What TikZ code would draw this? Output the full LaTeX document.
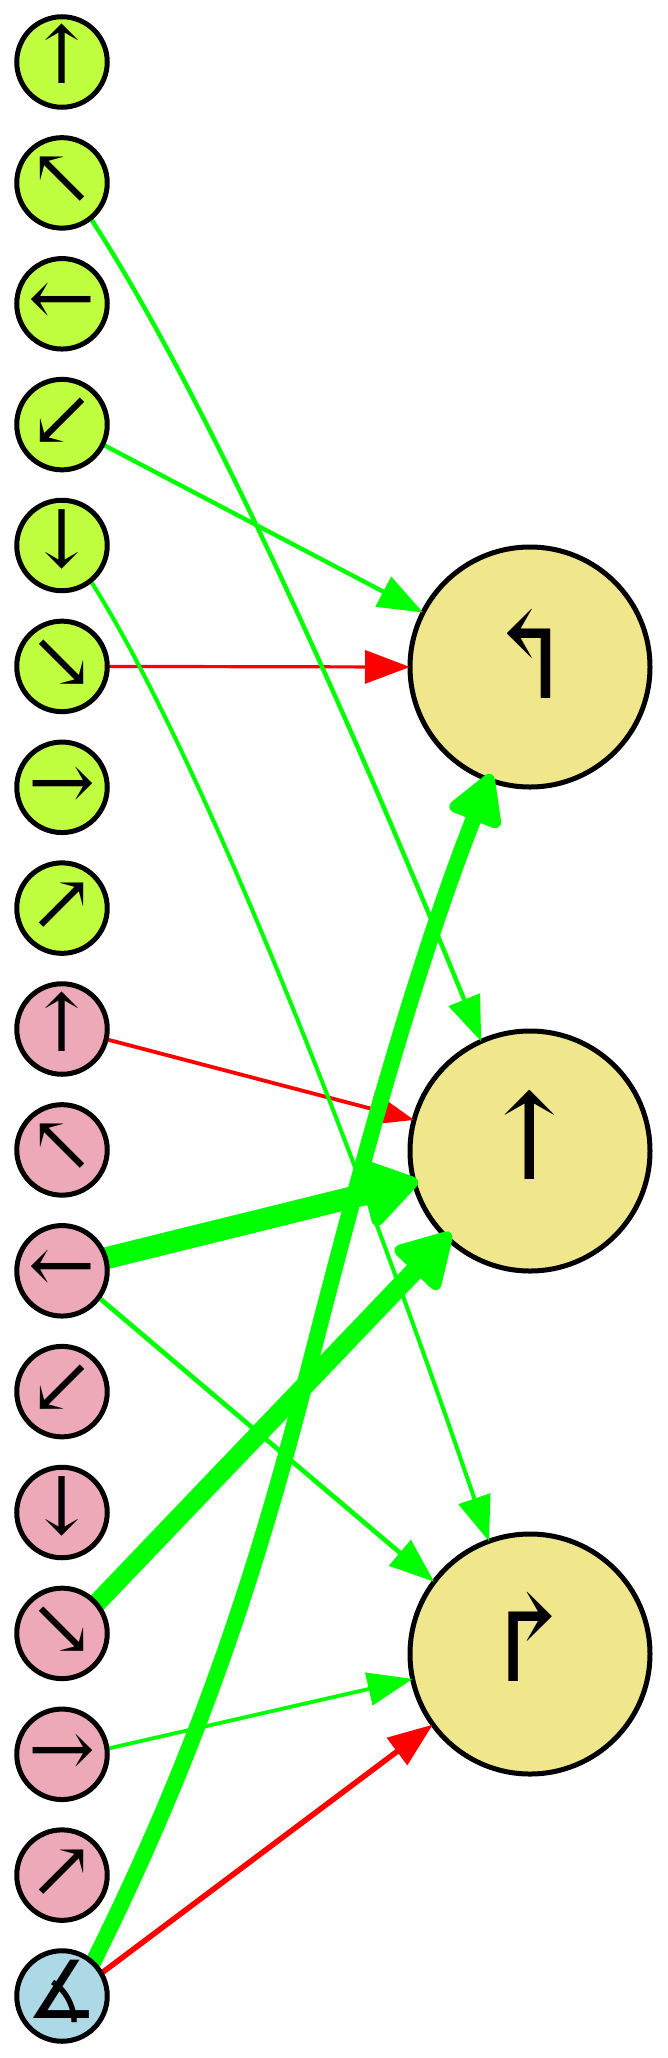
\documentclass[tikz,border=0pt]{standalone}
\usepackage{fontspec}
\setmainfont{DejaVu Serif}
\newfontfamily\anglefont{DejaVu Sans}
\usetikzlibrary{arrows.meta}
\definecolor{limefill}{HTML}{BFFF3F}
\definecolor{pinkfill}{HTML}{EEA9B8}
\definecolor{bluefill}{HTML}{ADD8E6}
\definecolor{khakifill}{HTML}{F0E68C}
\definecolor{edgegreen}{HTML}{00FF00}
\definecolor{edgered}{HTML}{FF0000}
\pgfdeclarelayer{bigl}
\pgfdeclarelayer{edgel}
\pgfsetlayers{bigl,edgel,main}
\tikzset{
  x=1pt,y=-1pt,
  smallnode/.style={circle,draw=black,line width=5pt,inner sep=0pt,outer sep=0pt,minimum size=90.5pt},
  limenode/.style={smallnode,fill=limefill},
  pinknode/.style={smallnode,fill=pinkfill},
  bluenode/.style={smallnode,fill=bluefill},
  bignode/.style={circle,draw=black,fill=khakifill,line width=5pt,inner sep=0pt,outer sep=0pt,minimum size=240pt},
  glyphsmall/.style={anchor=base,inner sep=0pt,outer sep=0pt,font=\fontsize{80}{96}\selectfont},
  glyphbig/.style={anchor=base,inner sep=0pt,outer sep=0pt,font=\fontsize{120}{144}\selectfont},
  thinhead/.tip={Triangle[length=45pt,width=33pt]},
  greenthin/.style={draw=edgegreen,line width=#1,-{thinhead[edgegreen]}},
  redthin/.style={draw=edgered,line width=#1,-{thinhead[edgered]}},
  greenthick/.style={draw=edgegreen,line width=22pt,shorten >=-4pt,-{Triangle[length=60pt,width=75pt,round,line width=12pt,edgegreen]}},
  greenmeda/.style={draw=edgegreen,line width=19pt,shorten >=-6pt,-{Triangle[length=60pt,width=66pt,round,line width=12pt,edgegreen]}},
  greenmedb/.style={draw=edgegreen,line width=16pt,shorten >=-6pt,-{Triangle[length=56pt,width=60pt,round,line width=12pt,edgegreen]}},
}
\begin{document}
\begin{tikzpicture}
\useasboundingbox (0,0) rectangle (667,2058);
\begin{pgfonlayer}{bigl}
\node[bignode] (L1) at (530,667) {};
\node[bignode] (L2) at (530,1151) {};
\node[bignode] (L3) at (530,1654) {};
\node[glyphbig] (GL1) at ([yshift=-31pt]L1.center) {↰};
\node[glyphbig] (GL2) at ([yshift=-28pt]L2.center) {↑};
\node[glyphbig] (GL3) at ([yshift=-27pt]L3.center) {↱};
\end{pgfonlayer}
\node[limenode] (S0) at (62,62) {};
\node[limenode] (S1) at (62,182.9) {};
\node[limenode] (S2) at (62,303.8) {};
\node[limenode] (S3) at (62,424.6) {};
\node[limenode] (S4) at (62,545.5) {};
\node[limenode] (S5) at (62,666.4) {};
\node[limenode] (S6) at (62,787.3) {};
\node[limenode] (S7) at (62,908.1) {};
\node[pinknode] (S8) at (62,1029) {};
\node[pinknode] (S9) at (62,1149.9) {};
\node[pinknode] (S10) at (62,1270.8) {};
\node[pinknode] (S11) at (62,1391.6) {};
\node[pinknode] (S12) at (62,1512.5) {};
\node[pinknode] (S13) at (62,1633.4) {};
\node[pinknode] (S14) at (62,1754.3) {};
\node[pinknode] (S15) at (62,1875.1) {};
\node[bluenode] (S16) at (62,1996) {};
\foreach \n/\g in {S0/↑,S1/↖,S2/←,S3/↙,S4/↓,S5/↘,S6/→,S7/↗,S8/↑,S9/↖,S10/←,S11/↙,S12/↓,S13/↘,S14/→,S15/↗}
  \node[glyphsmall] (G\n) at ([yshift=-22pt]\n.center) {\g};
\node[glyphsmall] (GS16) at ([yshift=-22pt]S16.center) {\anglefont ∡};
\begin{pgfonlayer}{edgel}
\draw[redthin=3.2pt] (S5.0) -- (L1.180);
\draw[redthin=3.8pt] (S8.-13) -- (L2.165);
\draw[redthin=5.5pt] (S16.30) -- (L3.-144);
\draw[greenthin=4.3pt] (S3.-26) -- (L1.153.5);
\draw[greenthin=4.4pt] (S1.-51) .. controls (199,385) and (338,690) .. (L2.114);
\draw[greenthin=4pt] (S4.-51) .. controls (189,735) and (338,1100) .. (L3.110.5);
\draw[greenthin=4.7pt] (S10.-36) -- (L3.143);
\draw[greenthin=3.8pt] (S14.7) -- (L3.-168);
\draw[greenthick] (S10.16) -- (L2.-165);
\draw[greenmeda] (S13.41) -- (L2.-134);
\draw[greenmedb] (S16.47) .. controls (189,1770) and (248,1600) .. (298,1410) .. controls (328,1295) and (398,1010) .. (L1.-110);
\end{pgfonlayer}
\end{tikzpicture}
\end{document}
